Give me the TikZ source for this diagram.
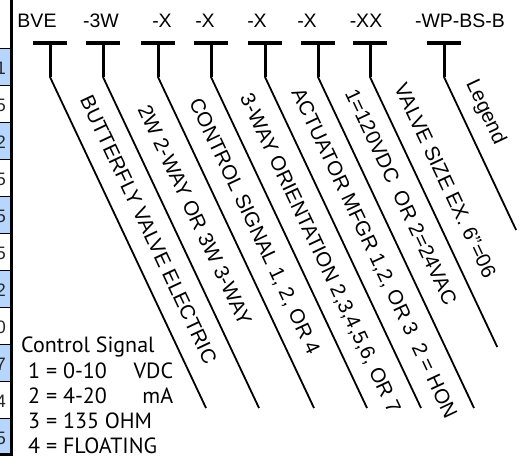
\documentclass[tikz,border=0pt]{standalone}
\usepackage{fontspec}
\setmainfont{Liberation Sans}
\newfontfamily\legendfont{PT Sans}
\definecolor{cellblue}{RGB}{183,214,255}
\begin{document}
\begin{tikzpicture}[x=1pt,y=-1pt,
  toplabel/.style={anchor=base,inner sep=0pt,font=\fontsize{19.5}{20}\selectfont},
  sidelabel/.style={anchor=base west,inner sep=0pt,rotate=-64.77,font=\fontsize{20.5}{21}\selectfont},
  barline/.style={line width=3.5pt},
  stemline/.style={line width=3pt},
  diagline/.style={line width=1.8pt},
  celldigit/.style={anchor=base east,inner sep=0pt,font=\fontsize{18}{18}\selectfont,text=black!85},
  legendtext/.style={anchor=base west,inner sep=0pt,font=\legendfont\fontsize{22}{26}\selectfont}]
\useasboundingbox (0,0) rectangle (521,459);

% cut-off table column at the left edge
\begin{scope}
  \clip (0,0) rectangle (10,455);
  \foreach \i/\dg in {1/1,2/5,3/2,4/5,5/5,6/5,7/2,8/0,9/7,10/4,11/5}{
    \pgfmathsetmacro\yt{48+37*(\i-1)}
    \ifodd\i \fill[cellblue] (0,\yt) rectangle (10,\yt+37); \fi
    \node[celldigit] (d\i) at (6,\yt+26) {\dg};
    \draw[line width=0.8pt] (0,\yt) -- (10,\yt);
  }
\end{scope}
\coordinate (stripT) at (11.5,0);
\coordinate (stripB) at (11.5,456);
\coordinate (stripL) at (0,454.5);
\coordinate (stripR) at (13,454.5);
\draw[line width=3pt] (stripT) -- (stripB);
\draw[line width=3pt] (stripL) -- (stripR);

% T markers and diagonal leader lines
\foreach \n/\x/\ey in {1/50/408,2/103/408,3/158/408,4/211/408,5/265/408,6/318/408,7/370/347,8/444/230}{
  \coordinate (bl\n) at (\x-17,43);
  \coordinate (br\n) at (\x+17,43);
  \coordinate (bt\n) at (\x,43);
  \coordinate (s\n) at (\x,77);
  \coordinate (e\n) at ({\x+(\ey-77)*0.4713},\ey);
  \draw[barline] (bl\n) -- (br\n);
  \draw[stemline] (bt\n) -- (s\n);
  \draw[diagline] (s\n) -- (e\n);
}

% top code labels
\node[toplabel] (c1) at (37,27) {BVE};
\node[toplabel] (c2) at (101,27) {-3W};
\node[toplabel] (c3) at (162,27) {-X};
\node[toplabel] (c4) at (205,27) {-X};
\node[toplabel] (c5) at (257,27) {-X};
\node[toplabel] (c6) at (307,27) {-X};
\node[toplabel] (c7) at (366,27) {-XX};
\node[toplabel] (c8) at (460,27) {-WP-BS-B};

% slanted descriptions
\node[sidelabel] (l1) at (79.5,99.5) {BUTTERFLY VALVE ELECTRIC};
\node[sidelabel] (l2) at (137.2,109.5) {2W 2-WAY OR 3W 3-WAY};
\node[sidelabel] (l3) at (188.8,102.2) {CONTROL SIGNAL 1, 2, OR 4};
\node[sidelabel] (l4) at (239.6,97.7) {3-WAY ORIENTATION 2,3,4,5,6, OR 7};
\node[sidelabel] (l5) at (291.1,92.3) {ACTUATOR MFGR 1,2, OR 3\ \ 2 = HON};
\node[sidelabel] (l6) at (344.5,93.2) {1=120VDC\ \ OR 2=24VAC};
\node[sidelabel] (l7) at (393.9,87.8) {VALVE SIZE EX. 6”=06};
\node[sidelabel] (l8) at (465.8,83.3) {Legend};

% control signal legend
\node[legendtext] (g0) at (21,352) {Control Signal};
\node[legendtext] (g1) at (28,378) {\makebox[145pt][l]{1 = 0-10\hfill VDC}};
\node[legendtext] (g2) at (28,403) {\makebox[145pt][l]{2 = 4-20\hfill mA}};
\node[legendtext] (g3) at (28,428) {3 = 135 OHM};
\node[legendtext] (g4) at (28,453) {4 = FLOATING};
\end{tikzpicture}
\end{document}
